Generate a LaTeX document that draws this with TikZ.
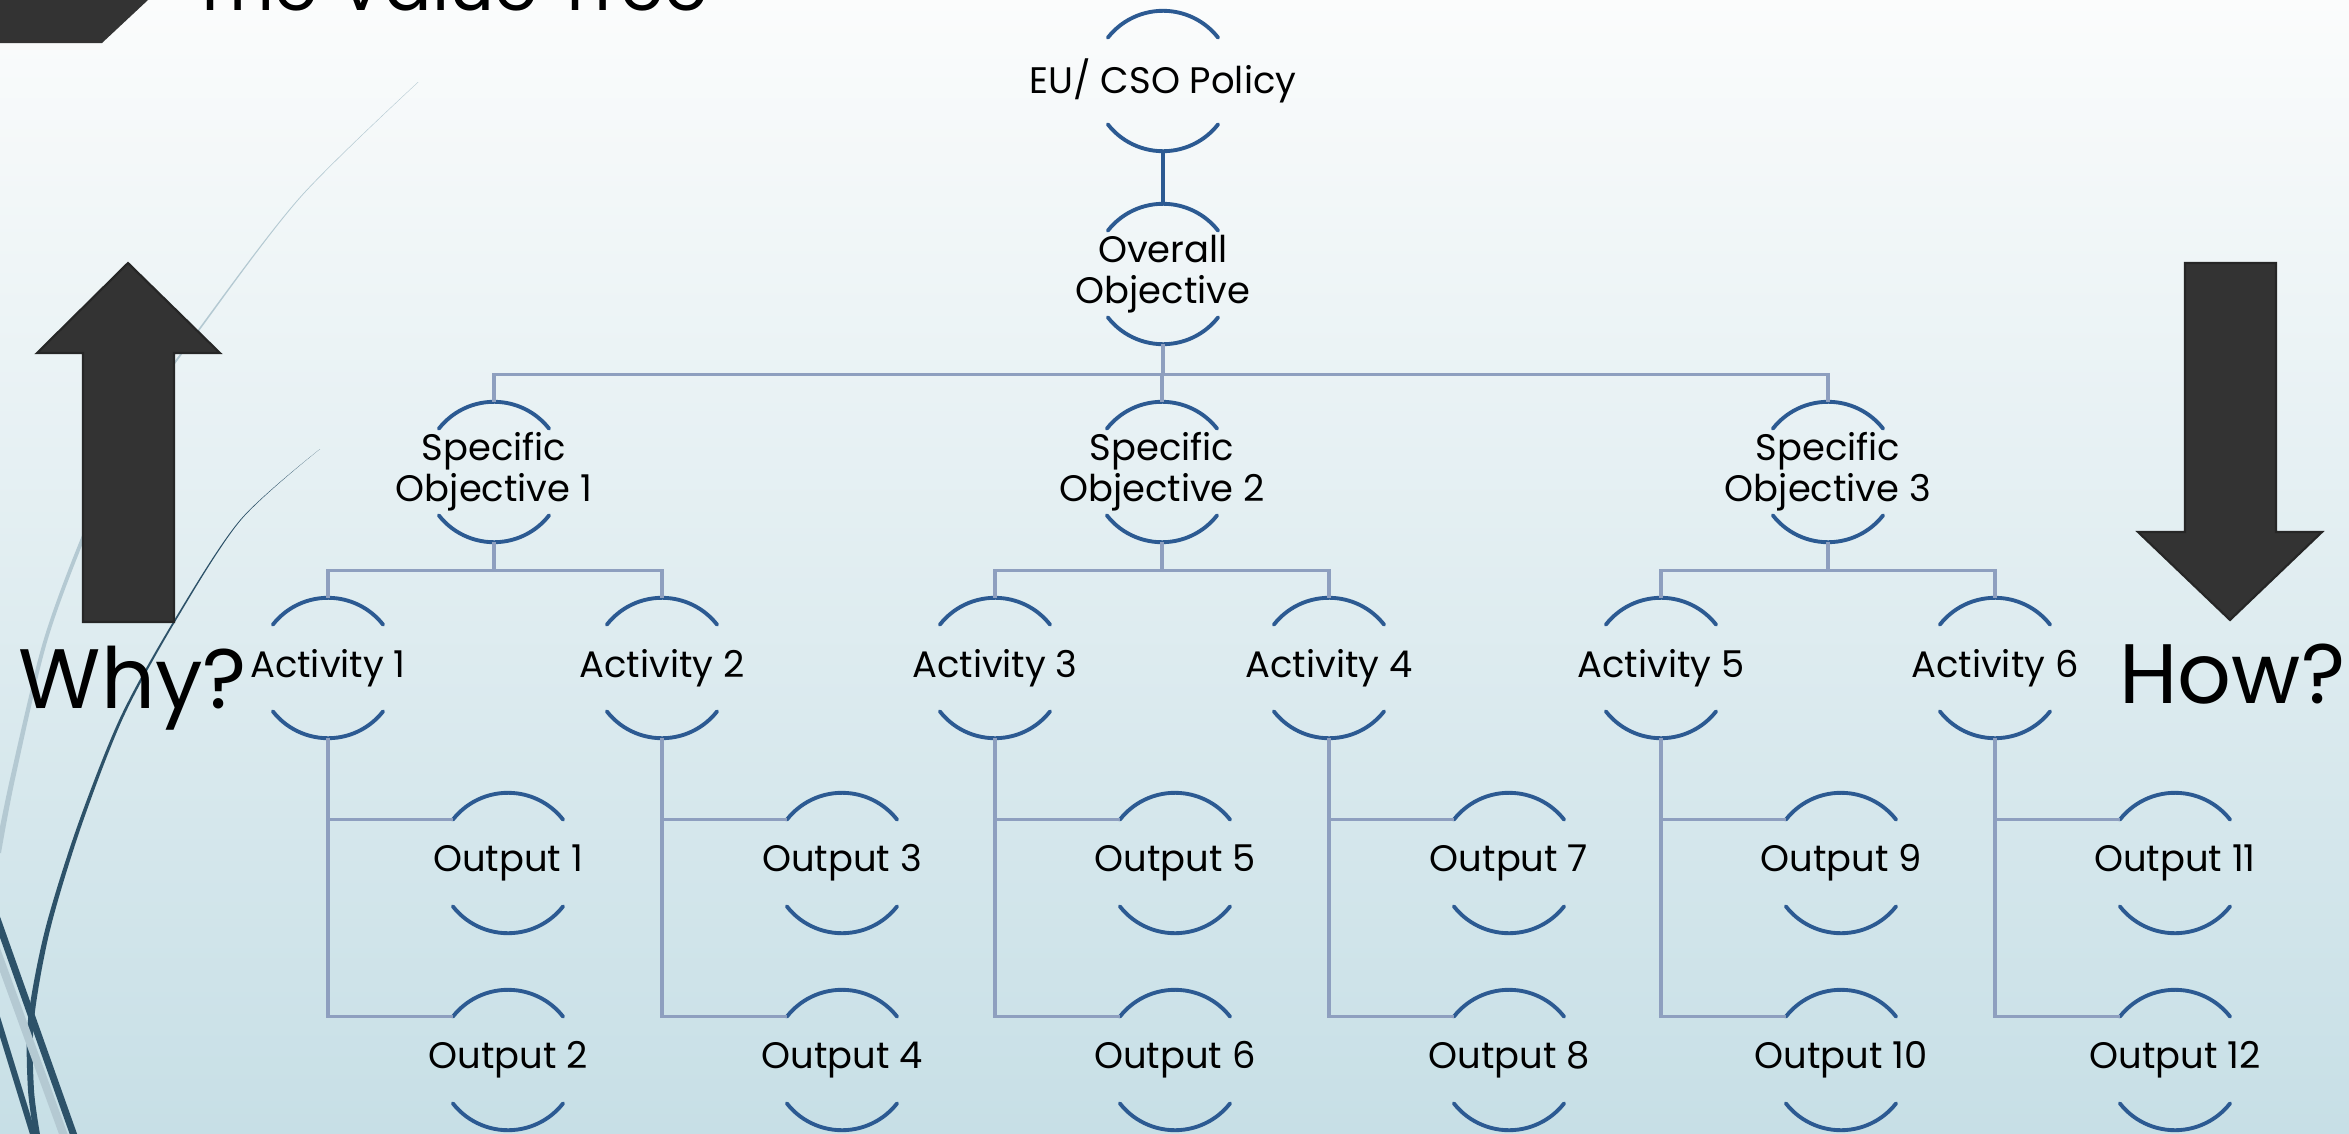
\documentclass[tikz,border=0pt]{standalone}
\usepackage{fontspec}
\setmainfont{Poppins}
\usetikzlibrary{calc}

\definecolor{arcblue}{HTML}{2C5A92}
\definecolor{linkgray}{HTML}{8E9FBF}
\definecolor{bgtop}{HTML}{FBFCFC}
\definecolor{bgbottom}{HTML}{C7DFE6}
\definecolor{wispdark}{HTML}{2D5269}
\definecolor{wisplight}{HTML}{B4C9D2}
\definecolor{arrowgray}{HTML}{333333}

\newcommand{\boxfont}{\fontsize{10.5}{11.6}\selectfont}
\newcommand{\askfont}{\fontsize{24}{28}\selectfont}
\newcommand{\headfont}{\fontsize{20}{24}\selectfont}

\begin{document}
\begin{tikzpicture}
  % Define styles
  \tikzstyle{tnode} = [rectangle, inner sep=0pt, minimum width=1.4cm, minimum height=1.39cm, align=center, font=\boxfont]
  \tikzstyle{arcline} = [arcblue, line width=1.1pt, line cap=round]
  \tikzstyle{link} = [linkgray, line width=0.9pt]
  \tikzstyle{bigarrow} = [fill=arrowgray, draw=black!85, line width=0.6pt]

  \useasboundingbox (0,0) rectangle (23.49,11.33);
  \clip (0,0) rectangle (23.49,11.33);

  % Background
  \shade[top color=bgtop, bottom color=bgbottom] (0,0) rectangle (23.49,11.33);

  % Wisps on the left
  \fill[wisplight] plot[smooth] coordinates {(4.18,10.51) (3.00,9.36) (2.00,8.06) (1.33,7.10) (0.83,6.00) (0.43,4.91) (0.10,3.54) (-0.05,2.80)}
    -- plot[smooth] coordinates {(0.01,2.80) (0.15,3.54) (0.47,4.91) (0.87,6.00) (1.36,7.10) (2.02,8.06) (3.01,9.36) (4.185,10.51)} -- cycle;
  \fill[wispdark] plot[smooth] coordinates {(3.20,6.84) (2.40,6.13) (1.73,5.11) (1.20,4.15) (0.77,3.06) (0.45,2.03) (0.28,1.13) (0.28,0.43) (0.35,-0.07)}
    -- plot[smooth] coordinates {(0.41,-0.07) (0.34,0.43) (0.34,1.13) (0.50,2.03) (0.81,3.06) (1.23,4.15) (1.75,5.11) (2.41,6.13) (3.20,6.84)} -- cycle;
  \draw[wisplight, line width=2.3pt] (-0.05,1.87) -- (0.68,-0.14);
  \draw[wispdark, line width=2pt] (-0.05,2.20) -- (0.78,-0.14);
  \draw[wispdark, line width=1.7pt] (-0.03,1.16) -- (0.37,-0.14);

  % Title band
  \fill[arrowgray] (0,11.33) -- (1.48,11.33) -- (1.02,10.90) -- (0,10.90) -- cycle;
  \node (title)[anchor=base west, inner sep=0pt, font=\headfont] at (1.91,11.23) {The Value Tree};

  % Why / How arrows
  \draw[bigarrow] (0.83,5.11) -- (0.83,7.80) -- (0.37,7.80) -- (1.28,8.70) -- (2.20,7.80) -- (1.74,7.80) -- (1.74,5.11) -- cycle;
  \draw[bigarrow] (21.85,8.70) -- (21.85,6.01) -- (21.38,6.01) -- (22.30,5.13) -- (23.22,6.01) -- (22.76,6.01) -- (22.76,8.70) -- cycle;
  \node (why)[anchor=base west, inner sep=0pt, font=\askfont] at (0.18,4.25) {Why?};
  \node (how)[anchor=base east, inner sep=0pt, font=\askfont] at (23.46,4.30) {How?};

  % The tree
  \node (eu)[tnode] at (11.63,10.52) {EU/ CSO Policy};
  \node (ov)[tnode] at (11.63,8.59) {Overall\\Objective};
  \foreach \i/\x in {1/4.94,2/11.62,3/18.28} {
    \node (so\i)[tnode] at (\x,6.61) {Specific\\Objective \i};
  }
  \foreach \i/\x in {1/3.28,2/6.62,3/9.95,4/13.29,5/16.61,6/19.95} {
    \pgfmathtruncatemacro{\a}{2*\i-1}
    \pgfmathtruncatemacro{\b}{2*\i}
    \node (act\i)[tnode] at (\x,4.65) {Activity \i};
    \node (out\a)[tnode] at (\x+1.80,2.70) {Output \a};
    \node (out\b)[tnode] at (\x+1.80,0.73) {Output \b};
  }

  % Arcs above and below each text
  \foreach \n in {eu,ov,so1,so2,so3,act1,act2,act3,act4,act5,act6,
                  out1,out2,out3,out4,out5,out6,out7,out8,out9,out10,out11,out12} {
    \coordinate (\n-l) at ([shift={(-0.552,-0.269)}]\n.north);
    \draw[arcline] (\n-l) arc[start angle=142, end angle=38, radius=0.7];
    \draw[arcline] ([shift={(-0.552,0.269)}]\n.south) arc[start angle=218, end angle=322, radius=0.7];
  }

  % Connectors
  \draw[arcblue, line width=1.4pt] (eu.south) -- (ov.north);
  \foreach \i in {1,2,3} {
    \draw[link] (ov.south) -- ++(0,-0.30) -| (so\i.north);
  }
  \foreach \s/\i/\j in {1/1/2,2/3/4,3/5/6} {
    \draw[link] (so\s.south) -- ++(0,-0.28) -| (act\i.north);
    \draw[link] (so\s.south) -- ++(0,-0.28) -| (act\j.north);
  }
  \foreach \i in {1,...,6} {
    \pgfmathtruncatemacro{\a}{2*\i-1}
    \pgfmathtruncatemacro{\b}{2*\i}
    \draw[link] (act\i.south) |- (out\a-l);
    \draw[link] (act\i.south) |- (out\b-l);
  }
\end{tikzpicture}
\end{document}
